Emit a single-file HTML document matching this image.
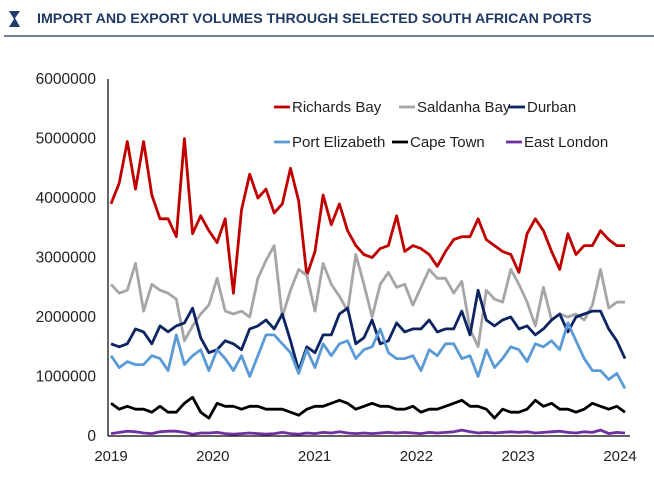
<!DOCTYPE html>
<html><head><meta charset="utf-8"><style>
body{margin:0;background:#fff;width:654px;height:479px;overflow:hidden;font-family:"Liberation Sans",sans-serif}
</style></head><body>
<svg width="654" height="479" xmlns="http://www.w3.org/2000/svg">
<g><polygon points="9,11 20,11 15,18 20,27 9,27 14,19" fill="#1f3a6b"/></g>
<text x="37" y="23" font-size="14.2" font-weight="bold" fill="#1f3864">IMPORT AND EXPORT VOLUMES THROUGH SELECTED SOUTH AFRICAN PORTS</text>
<line x1="4" y1="36" x2="654" y2="36" stroke="#4a5670" stroke-width="1.5"/>
<g id="axes"></g><g id="series"></g><g id="legend"></g>
</svg>
<script>
const years=[2019,2020,2021,2022,2023,2024];
const yTicks=[0,1000000,2000000,3000000,4000000,5000000,6000000];
const richards=[3.90,4.25,4.95,4.15,4.95,4.05,3.65,3.65,3.35,5.00,3.40,3.70,3.45,3.25,3.65,2.40,3.80,4.40,4.00,4.15,3.75,3.90,4.50,3.95,2.70,3.10,4.05,3.55,3.90,3.45,3.20,3.05,3.00,3.15,3.20,3.70,3.10,3.20,3.15,3.05,2.85,3.10,3.30,3.35,3.35,3.65,3.30,3.20,3.10,3.05,2.75,3.40,3.65,3.45,3.10,2.80,3.40,3.05,3.20,3.20,3.45,3.30,3.20,3.20];
const saldanha=[2.55,2.40,2.45,2.90,2.10,2.55,2.45,2.40,2.30,1.60,1.85,2.05,2.20,2.65,2.10,2.05,2.10,2.00,2.65,2.95,3.20,2.00,2.45,2.80,2.70,2.10,2.90,2.55,2.35,2.10,3.05,2.55,2.00,2.55,2.75,2.50,2.55,2.20,2.50,2.80,2.65,2.65,2.40,2.60,1.80,1.50,2.45,2.30,2.25,2.80,2.55,2.25,1.85,2.50,1.95,2.05,2.00,2.05,1.95,2.20,2.80,2.15,2.25,2.25];
const durban=[1.55,1.50,1.55,1.80,1.75,1.55,1.85,1.75,1.85,1.90,2.15,1.65,1.40,1.45,1.60,1.55,1.45,1.80,1.85,1.95,1.80,2.05,1.60,1.10,1.50,1.40,1.70,1.70,2.05,2.15,1.55,1.65,1.95,1.55,1.60,1.90,1.75,1.80,1.80,1.95,1.75,1.80,1.80,2.10,1.70,2.45,1.95,1.85,1.95,2.00,1.80,1.85,1.70,1.80,1.95,2.05,1.75,2.00,2.05,2.10,2.10,1.80,1.60,1.30];
const portElizabeth=[1.35,1.15,1.25,1.20,1.20,1.35,1.30,1.10,1.70,1.20,1.35,1.45,1.10,1.45,1.30,1.10,1.35,1.00,1.35,1.70,1.70,1.55,1.40,1.05,1.45,1.15,1.55,1.35,1.55,1.60,1.30,1.45,1.50,1.80,1.40,1.30,1.30,1.35,1.10,1.45,1.35,1.55,1.55,1.30,1.35,1.00,1.45,1.15,1.30,1.50,1.45,1.25,1.55,1.50,1.60,1.45,1.90,1.60,1.30,1.10,1.10,0.95,1.05,0.80];
const capeTown=[0.55,0.45,0.50,0.45,0.45,0.40,0.50,0.40,0.40,0.55,0.65,0.40,0.30,0.55,0.50,0.50,0.45,0.50,0.50,0.45,0.45,0.45,0.40,0.35,0.45,0.50,0.50,0.55,0.60,0.55,0.45,0.50,0.55,0.50,0.50,0.45,0.45,0.50,0.40,0.45,0.45,0.50,0.55,0.60,0.50,0.50,0.45,0.30,0.45,0.40,0.40,0.45,0.60,0.50,0.55,0.45,0.45,0.40,0.45,0.55,0.50,0.45,0.50,0.40];
const eastLondon=[0.04,0.06,0.08,0.07,0.05,0.04,0.07,0.08,0.08,0.06,0.03,0.05,0.05,0.06,0.04,0.03,0.04,0.05,0.04,0.03,0.04,0.06,0.04,0.03,0.05,0.04,0.06,0.05,0.07,0.05,0.04,0.05,0.04,0.05,0.06,0.05,0.06,0.05,0.04,0.06,0.05,0.06,0.07,0.10,0.07,0.05,0.06,0.05,0.06,0.07,0.06,0.07,0.05,0.06,0.07,0.08,0.06,0.05,0.07,0.06,0.10,0.04,0.06,0.05];
const seriesNames=["Richards Bay","Saldanha Bay","Durban","Port Elizabeth","Cape Town","East London"];
const seriesData=[richards,saldanha,durban,portElizabeth,capeTown,eastLondon];
const colors=["#c00000","#a6a6a6","#0c2461","#5b9bd5","#000000","#7030a0"];
const NS="http://www.w3.org/2000/svg";
const X0=111,X1=625,Y0=436,YT=79;
const y=v=>Y0-(v/6000000)*(Y0-YT);
const x=(i,n)=>X0+i*(X1-X0)/(n-1);
const xYear=yr=>X0+(yr-2019)*101.8;
function mk(t,a,p){const e=document.createElementNS(NS,t);for(const k in a)e.setAttribute(k,a[k]);p.appendChild(e);return e;}
const axes=document.getElementById('axes');
const ya=mk('line',{x1:108,y1:YT,x2:108,y2:Y0,stroke:'#000','stroke-width':1.2},axes);


const xa=mk('line',{x1:108,y1:Y0,x2:630,y2:Y0,stroke:'#000','stroke-width':1.2},axes);


yTicks.forEach(v=>{const t=mk('text',{x:96,y:y(v)+5,'text-anchor':'end','font-size':15.5,fill:'#222'},axes);t.textContent=v;

});
years.forEach(yr=>{const t=mk('text',{x:xYear(yr),y:461,'text-anchor':'middle','font-size':15,fill:'#222'},axes);t.textContent=yr;

});
const sg=document.getElementById('series');
seriesData.forEach((d,s)=>{const pts=d.map((v,i)=>x(i,d.length).toFixed(1)+','+y(v*1e6).toFixed(1)).join(' ');
const p=mk('polyline',{points:pts,fill:'none',stroke:colors[s],'stroke-width':2.8,'stroke-linejoin':'round'},sg);

});
const lg=document.getElementById('legend');
const lpos=[[274,107],[399,107],[509,107],[274,142],[392,142],[506,142]];
seriesNames.forEach((n,s)=>{const [lx,ly]=lpos[s];
const g=mk('g',{},lg);


mk('line',{x1:lx,y1:ly,x2:lx+16,y2:ly,stroke:colors[s],'stroke-width':2.8},g);
const t=mk('text',{x:lx+18,y:ly+5,'font-size':15,fill:'#222'},g);t.textContent=n;});
</script>
</body></html>
